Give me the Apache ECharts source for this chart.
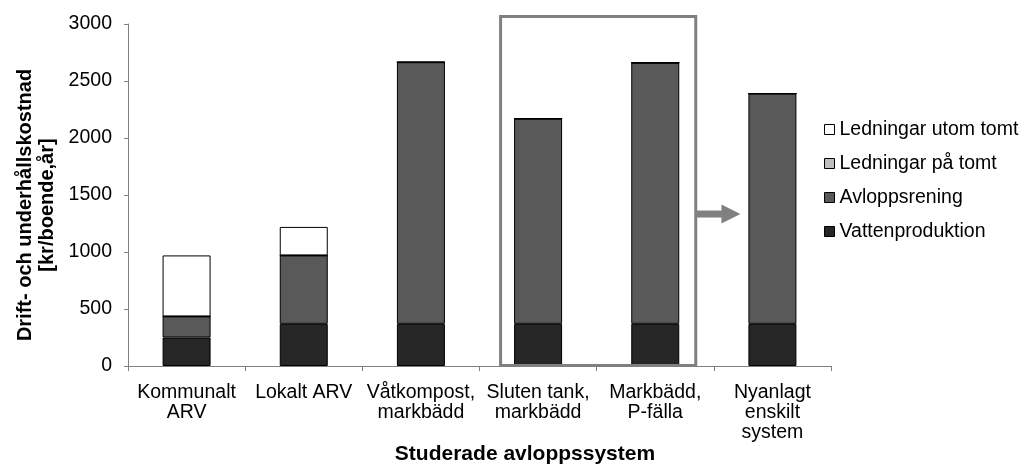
<!DOCTYPE html>
<html>
<head>
<meta charset="utf-8">
<script src="https://cdn.jsdelivr.net/npm/echarts@6/dist/echarts.min.js"></script>
<style>
  html, body { margin: 0; padding: 0; background: #fff; }
  #chart { width: 1020px; height: 465px; }
</style>
</head>
<body>
<div id="chart"></div>
<script>
// Studerade avloppssystem: drift- och underhållskostnad per boende och år
const categories = [
  'Kommunalt\nARV',
  'Lokalt ARV',
  'Våtkompost,\nmarkbädd',
  'Sluten tank,\nmarkbädd',
  'Markbädd,\nP-fälla',
  'Nyanlagt\nenskilt\nsystem'
];
const vattenproduktion   = [250, 370, 370, 370, 370, 370];
const avloppsrening      = [185, 600, 2295, 1800, 2290, 2020];
const ledningarPaTomt    = [0, 0, 0, 0, 0, 0];
const ledningarUtomTomt  = [535, 250, 0, 0, 0, 0];
const yTicks = [0, 500, 1000, 1500, 2000, 2500, 3000];

// categories framed by the highlight box, and the one the arrow points to
const framedFrom = 3, framedTo = 4, arrowTarget = 5;

const font = 'Arial, "Liberation Sans", sans-serif';
const fs = 19.5;
const chart = echarts.init(document.getElementById('chart'));

function seriesOf(name, data, color) {
  return {
    name: name,
    type: 'bar',
    stack: 'total',
    data: data,
    barWidth: 48,
    itemStyle: { color: color, borderColor: '#000', borderWidth: 1 },
    emphasis: { disabled: true }
  };
}

chart.setOption({
  animation: false,
  grid: { left: 128, right: 189, top: 24, bottom: 99, containLabel: false, outerBoundsMode: 'none' },
  legend: {
    orient: 'vertical',
    left: 819,
    top: 114,
    itemGap: 13,
    itemWidth: 10,
    itemHeight: 10,
    icon: 'rect',
    textStyle: { fontFamily: font, fontSize: fs, color: '#000', lineHeight: 21 },
    data: ['Ledningar utom tomt', 'Ledningar på tomt', 'Avloppsrening', 'Vattenproduktion'],
    itemStyle: { borderColor: '#000', borderWidth: 1 }
  },
  xAxis: {
    type: 'category',
    data: categories,
    name: 'Studerade avloppssystem',
    nameLocation: 'middle',
    nameGap: 78,
    nameMoveOverlap: false,
    nameTextStyle: { fontFamily: font, fontSize: 21, fontWeight: 'bold', color: '#000', padding: [0, 0, 0, 91] },
    axisLine: { lineStyle: { color: '#808080', width: 1 } },
    axisTick: { show: true, alignWithLabel: false, length: 5, lineStyle: { color: '#808080' } },
    axisLabel: {
      interval: 0,
      fontFamily: font,
      fontSize: fs,
      color: '#000',
      lineHeight: 20,
      margin: 17
    }
  },
  yAxis: {
    type: 'value',
    min: yTicks[0],
    max: yTicks[yTicks.length - 1],
    interval: yTicks[1] - yTicks[0],
    name: 'Drift- och underhållskostnad\n[kr/boende,år]',
    nameLocation: 'middle',
    nameRotate: 90,
    nameGap: 70,
    nameMoveOverlap: false,
    nameTextStyle: {
      fontFamily: font, fontSize: 20, fontWeight: 'bold', color: '#000',
      lineHeight: 22, padding: [0, 20, 0, 0]
    },
    axisLine: { show: true, lineStyle: { color: '#808080', width: 1 } },
    axisTick: { show: true, length: 4, lineStyle: { color: '#808080' } },
    splitLine: { show: false },
    axisLabel: {
      fontFamily: font, fontSize: fs, color: '#000', margin: 16,
      formatter: (v) => String(v)
    }
  },
  series: [
    seriesOf('Vattenproduktion', vattenproduktion, '#262626'),
    seriesOf('Avloppsrening', avloppsrening, '#595959'),
    seriesOf('Ledningar på tomt', ledningarPaTomt, '#bfbfbf'),
    seriesOf('Ledningar utom tomt', ledningarUtomTomt, '#ffffff')
  ]
});

// highlight box around the framed systems and an arrow to the new system
function drawOverlay() {
  const cx = (i) => chart.convertToPixel({ xAxisIndex: 0 }, categories[i]);
  const x0 = cx(framedFrom) - 37.5;
  const x1 = cx(framedTo) + 40.5;
  const yTop = chart.convertToPixel({ yAxisIndex: 0 }, 3000) - 7.5;
  const yBot = chart.convertToPixel({ yAxisIndex: 0 }, 0) - 0.5;
  const yArrow = chart.convertToPixel({ yAxisIndex: 0 }, 1333);
  const xTip = cx(arrowTarget) - 32;
  const headLen = 19;
  const gray = '#808080';
  chart.setOption({
    graphic: [
      {
        type: 'rect',
        shape: { x: x0, y: yTop, width: x1 - x0, height: yBot - yTop },
        style: { fill: null, stroke: gray, lineWidth: 3 },
        z: 100
      },
      {
        type: 'rect',
        shape: { x: x1 + 1, y: yArrow - 3.5, width: xTip - headLen - x1, height: 7 },
        style: { fill: gray },
        z: 100
      },
      {
        type: 'polygon',
        shape: { points: [[xTip - headLen, yArrow - 9.5], [xTip, yArrow], [xTip - headLen, yArrow + 9.5]] },
        style: { fill: gray },
        z: 100
      }
    ]
  });
}
drawOverlay();
</script>
</body>
</html>
